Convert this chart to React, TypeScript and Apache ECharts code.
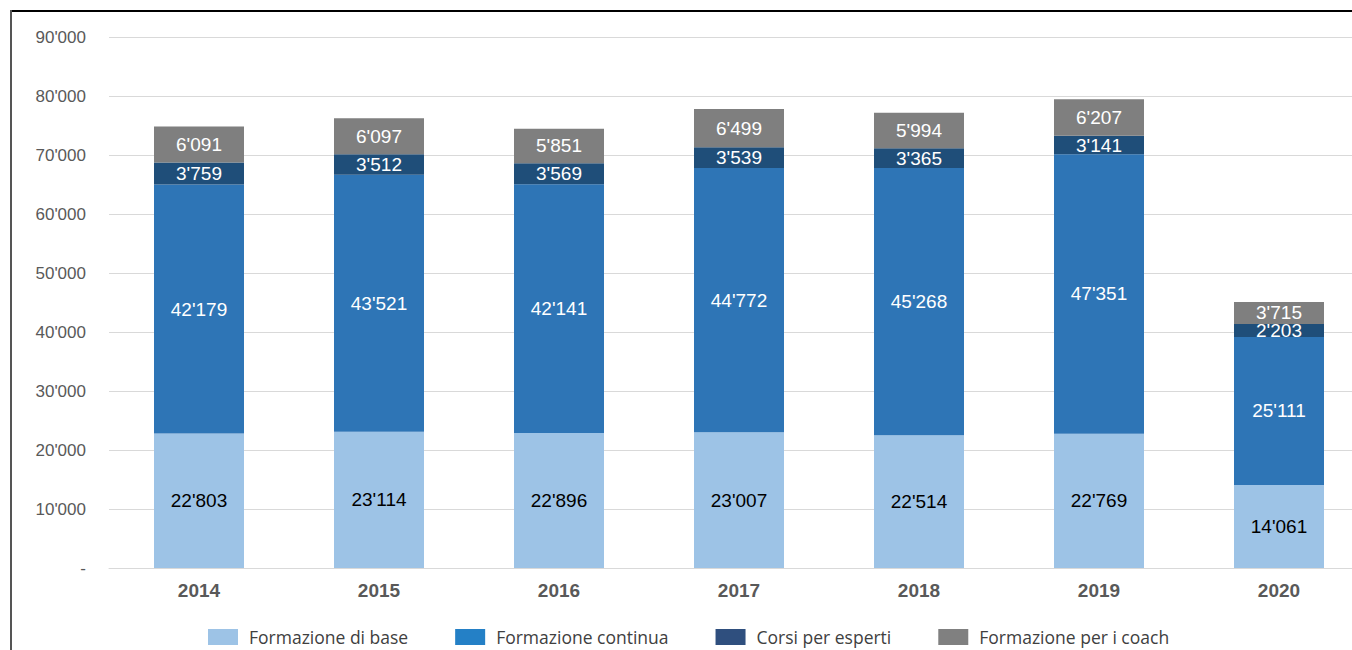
import React, { useEffect, useRef } from "react";
import * as echarts from "echarts";

const years = ["2014", "2015", "2016", "2017", "2018", "2019", "2020"];
const base = [22803, 23114, 22896, 23007, 22514, 22769, 14061];
const continua = [42179, 43521, 42141, 44772, 45268, 47351, 25111];
const esperti = [3759, 3512, 3569, 3539, 3365, 3141, 2203];
const coach = [6091, 6097, 5851, 6499, 5994, 6207, 3715];
const seriesNames = ["Formazione di base", "Formazione continua", "Corsi per esperti", "Formazione per i coach"];
const barColors = ["#9DC3E6", "#2E75B6", "#1F4E79", "#7F7F7F"];
const legendColors = ["#9DC3E6", "#2480C6", "#2F4F7E", "#808080"];

const fmt = (v: number) => String(Math.round(v)).replace(/\B(?=(\d{3})+(?!\d))/g, "'");

export default function App() {
  const ref = useRef<HTMLDivElement>(null);
  useEffect(() => {
    if (!ref.current) return;
    const chart = echarts.init(ref.current, null, { renderer: "svg" });
    const datasets = [base, continua, esperti, coach];
    chart.setOption({
      animation: false,
      backgroundColor: "#ffffff",
      textStyle: { fontFamily: "Liberation Sans, Arial, sans-serif" },
      grid: { left: 109, top: 37, width: 1260, height: 531, containLabel: false },
      legend: {
        left: 208,
        top: 628,
        padding: 0,
        itemWidth: 30,
        itemHeight: 16,
        itemGap: 47,
        icon: "rect",
        textStyle: { fontSize: 17.5, color: "#404040", fontFamily: "Open Sans, sans-serif", padding: [0, 0, 0, 6] },
        data: seriesNames.map((n, i) => ({ name: n, itemStyle: { color: legendColors[i] } })),
      },
      xAxis: {
        type: "category",
        data: years,
        axisLine: { lineStyle: { color: "#D9D9D9", width: 1 } },
        axisTick: { show: false },
        axisLabel: { fontSize: 19, fontWeight: "bold", color: "#595959", margin: 13 },
      },
      yAxis: {
        type: "value",
        min: 0,
        max: 90000,
        interval: 10000,
        axisLine: { show: false },
        axisTick: { show: false },
        splitLine: { lineStyle: { color: "#D9D9D9", width: 1 } },
        axisLabel: {
          fontSize: 17,
          color: "#595959",
          margin: 23,
          formatter: (v: number) => (v === 0 ? "-" : fmt(v)),
        },
      },
      series: datasets.map((d, i) => ({
        name: seriesNames[i],
        type: "bar",
        stack: "total",
        barWidth: 90,
        data: d,
        itemStyle: { color: barColors[i] },
        label: {
          show: true,
          position: "inside",
          fontSize: 19,
          color: i === 0 ? "#000000" : "#ffffff",
          formatter: (p: any) => fmt(p.value),
        },
      })),
      graphic: [
        { type: "line", shape: { x1: 10, y1: 11, x2: 1380, y2: 11 }, style: { stroke: "#000", lineWidth: 2 } },
        { type: "line", shape: { x1: 11, y1: 10, x2: 11, y2: 650 }, style: { stroke: "#555", lineWidth: 2 } },
      ],
    });
    return () => chart.dispose();
  }, []);
  return (
    <div style={{ position: "absolute", left: 0, top: 0, width: 1352, height: 650, overflow: "hidden" }}>
      <div ref={ref} style={{ width: 1380, height: 650 }} />
    </div>
  );
}
